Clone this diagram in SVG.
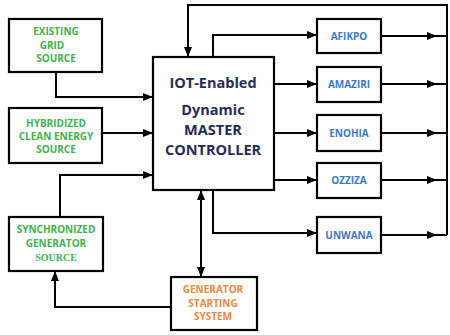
<svg xmlns="http://www.w3.org/2000/svg" width="450" height="335" viewBox="0 0 450 335">
<defs>
<marker id="ah" markerWidth="10" markerHeight="8" refX="9" refY="4" orient="auto" markerUnits="userSpaceOnUse">
<path d="M0,0 L10,4 L0,8 Z" fill="#000"/>
</marker>
<marker id="ahs" markerWidth="10" markerHeight="8" refX="1" refY="4" orient="auto" markerUnits="userSpaceOnUse">
<path d="M10,0 L0,4 L10,8 Z" fill="#000"/>
</marker>
<style>
.box{fill:#fff;stroke:#000;stroke-width:2.2}
.ln{fill:none;stroke:#000;stroke-width:2}
.g{font-family:"Open Sans","Liberation Sans",sans-serif;font-weight:bold;font-size:10px;fill:#3DB54A;text-anchor:middle}
.b{font-family:"Open Sans","Liberation Sans",sans-serif;font-weight:bold;font-size:10px;fill:#3A7BCB;text-anchor:middle}
.o{font-family:"Open Sans","Liberation Sans",sans-serif;font-weight:bold;font-size:10px;fill:#F5883A;text-anchor:middle}
.m{font-family:"Open Sans","Liberation Sans",sans-serif;font-weight:bold;font-size:14.5px;fill:#1F2D5A;text-anchor:middle}
</style>
</defs>
<g id="connectors">
<path class="ln" d="M56,72 V97 H152" marker-end="url(#ah)"/>
<path class="ln" d="M102,133 H152" marker-end="url(#ah)"/>
<path class="ln" d="M60,217 V175 H152" marker-end="url(#ah)"/>
<path class="ln" d="M171,307 H55 V272" marker-end="url(#ah)"/>
<path class="ln" d="M201,191 V276" marker-start="url(#ahs)" marker-end="url(#ah)"/>
<path class="ln" d="M447,235 V5 H188 V56" marker-end="url(#ah)"/>
<path class="ln" d="M213,57 V35 H316" marker-end="url(#ah)"/>
<path class="ln" d="M274,84 H316" marker-end="url(#ah)"/>
<path class="ln" d="M274,133 H316" marker-end="url(#ah)"/>
<path class="ln" d="M274,180 H316" marker-end="url(#ah)"/>
<path class="ln" d="M213,190 V233 H316" marker-end="url(#ah)"/>
<path class="ln" d="M381,36 H436" marker-end="url(#ah)"/><path class="ln" d="M435,36 H447"/>
<path class="ln" d="M381,84 H436" marker-end="url(#ah)"/><path class="ln" d="M435,84 H447"/>
<path class="ln" d="M381,133 H436" marker-end="url(#ah)"/><path class="ln" d="M435,133 H447"/>
<path class="ln" d="M381,180 H436" marker-end="url(#ah)"/><path class="ln" d="M435,180 H447"/>
<path class="ln" d="M381,235 H436" marker-end="url(#ah)"/><path class="ln" d="M435,235 H447"/>
</g>
<g id="existing-grid">
<rect class="box" x="9" y="19" width="93" height="53"/>
<text class="g" x="56" y="35">EXISTING</text>
<text class="g" x="52" y="48.5">GRID</text>
<text class="g" x="56" y="62">SOURCE</text>
</g>
<g id="hybridized">
<rect class="box" x="9" y="108" width="93" height="55"/>
<text class="g" x="56" y="127">HYBRIDIZED</text>
<text class="g" x="56" y="140">CLEAN ENERGY</text>
<text class="g" x="56" y="153">SOURCE</text>
</g>
<g id="synchronized">
<rect class="box" x="9" y="217" width="94" height="54"/>
<text class="g" x="56" y="233">SYNCHRONIZED</text>
<text class="g" x="56" y="247">GENERATOR</text>
<text class="g" x="56" y="261" style="font-family:'Liberation Serif',serif">SOURCE</text>
</g>
<g id="master">
<rect class="box" x="153" y="57" width="121" height="133"/>
<text class="m" x="213" y="88">IOT-Enabled</text>
<text class="m" x="213" y="115">Dynamic</text>
<text class="m" x="213" y="135">MASTER</text>
<text class="m" x="213" y="155">CONTROLLER</text>
</g>
<g id="generator-starting">
<rect class="box" x="171" y="277" width="86" height="53"/>
<text class="o" x="213" y="293">GENERATOR</text>
<text class="o" x="213" y="306.5">STARTING</text>
<text class="o" x="213" y="320">SYSTEM</text>
</g>
<g id="afikpo"><rect class="box" x="317" y="19" width="64" height="34"/><text class="b" x="349" y="40">AFIKPO</text></g>
<g id="amaziri"><rect class="box" x="317" y="67" width="64" height="35"/><text class="b" x="349" y="88">AMAZIRI</text></g>
<g id="enohia"><rect class="box" x="317" y="115" width="64" height="36"/><text class="b" x="349" y="137">ENOHIA</text></g>
<g id="ozziza"><rect class="box" x="317" y="163" width="64" height="35"/><text class="b" x="349" y="184">OZZIZA</text></g>
<g id="unwana"><rect class="box" x="317" y="217" width="64" height="36"/><text class="b" x="349" y="239">UNWANA</text></g>
</svg>
